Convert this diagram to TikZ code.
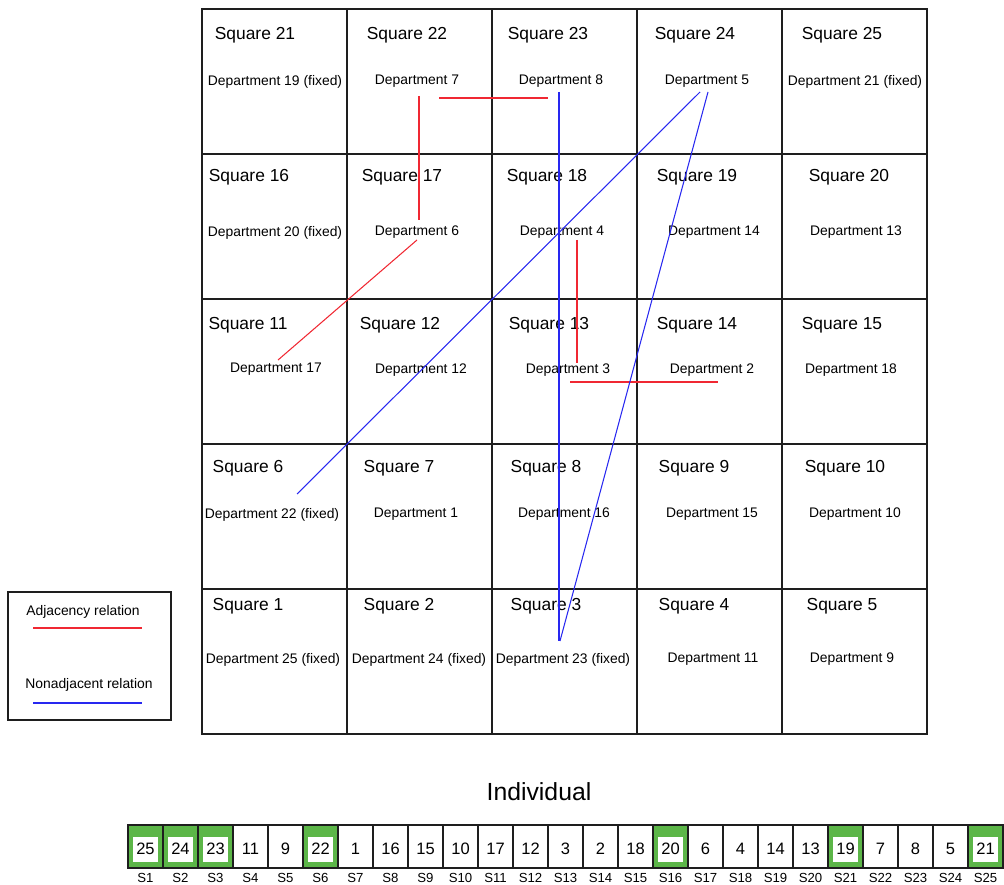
\documentclass[tikz,border=0pt]{standalone}
\usepackage{fontspec}
\setmainfont{Liberation Sans}
\usetikzlibrary{positioning}
\definecolor{AdjRed}{RGB}{240,40,50}
\definecolor{NonBlue}{RGB}{40,40,240}
\definecolor{FixGreen}{RGB}{92,182,72}
\definecolor{Frame}{RGB}{30,30,30}

\begin{document}
\begin{tikzpicture}[x=0.02cm,y=-0.02cm,
    cell/.style={draw=Frame,line width=0.8pt},
    sqlabel/.style={font=\fontsize{9.9}{12}\selectfont,inner sep=0pt,yshift=-0.03cm},
    dept/.style={font=\fontsize{7.9}{9.5}\selectfont,inner sep=0pt,yshift=-0.03cm},
    adj/.style={draw=AdjRed,line width=0.6pt},
    nonadj/.style={draw=NonBlue,line width=0.6pt},
    gene/.style={rectangle,draw=Frame,line width=0.8pt,minimum width=0.7cm,minimum height=0.86cm,inner sep=0pt},
    genenum/.style={rectangle,fill=white,minimum width=0.5cm,minimum height=0.5cm,inner sep=0pt,font=\fontsize{9.4}{11}\selectfont},
    slabel/.style={font=\fontsize{7.5}{9}\selectfont,inner sep=0pt}
]
\useasboundingbox (0,0) rectangle (1004,885);

% Layout grid
\foreach \r in {0,...,4}
  \foreach \c in {0,...,4}
    \draw[cell] ({202+145*\c},{9+145*\r}) rectangle ++(145,145);

% Top row (squares 21-25)
\node[sqlabel] (s21) at (255,34) {Square 21};
\node[sqlabel] (s22) at (407,34) {Square 22};
\node[sqlabel] (s23) at (548,34) {Square 23};
\node[sqlabel] (s24) at (695,34) {Square 24};
\node[sqlabel] (s25) at (842,34) {Square 25};
\node[dept] (d19) at (275,80) {Department 19 (fixed)};
\node[dept] (d7) at (417,80) {Department 7};
\node[dept] (d8) at (561,80) {Department 8};
\node[dept] (d5) at (707,80) {Department 5};
\node[dept] (d21) at (855,80) {Department 21 (fixed)};

% Squares 16-20
\node[sqlabel] (s16) at (249,176) {Square 16};
\node[sqlabel] (s17) at (402,176) {Square 17};
\node[sqlabel] (s18) at (547,176) {Square 18};
\node[sqlabel] (s19) at (697,176) {Square 19};
\node[sqlabel] (s20) at (849,176) {Square 20};
\node[dept] (d20) at (275,231) {Department 20 (fixed)};
\node[dept] (d6) at (417,231) {Department 6};
\node[dept] (d4) at (562,231) {Department 4};
\node[dept] (d14) at (714,231) {Department 14};
\node[dept] (d13) at (856,231) {Department 13};

% Squares 11-15
\node[sqlabel] (s11) at (248,324) {Square 11};
\node[sqlabel] (s12) at (400,324) {Square 12};
\node[sqlabel] (s13) at (549,324) {Square 13};
\node[sqlabel] (s14) at (697,324) {Square 14};
\node[sqlabel] (s15) at (842,324) {Square 15};
\node[dept] (d17) at (276,368) {Department 17};
\node[dept] (d12) at (421,369) {Department 12};
\node[dept] (d3) at (568,369) {Department 3};
\node[dept] (d2) at (712,369) {Department 2};
\node[dept] (d18) at (851,369) {Department 18};

% Squares 6-10
\node[sqlabel] (s6) at (248,467) {Square 6};
\node[sqlabel] (s7) at (399,467) {Square 7};
\node[sqlabel] (s8) at (546,467) {Square 8};
\node[sqlabel] (s9) at (694,467) {Square 9};
\node[sqlabel] (s10) at (845,467) {Square 10};
\node[dept] (d22) at (272,513) {Department 22 (fixed)};
\node[dept] (d1) at (416,513) {Department 1};
\node[dept] (d16) at (564,513) {Department 16};
\node[dept] (d15) at (712,513) {Department 15};
\node[dept] (d10) at (855,513) {Department 10};

% Squares 1-5
\node[sqlabel] (s1) at (248,605) {Square 1};
\node[sqlabel] (s2) at (399,605) {Square 2};
\node[sqlabel] (s3) at (546,605) {Square 3};
\node[sqlabel] (s4) at (694,605) {Square 4};
\node[sqlabel] (s5) at (842,605) {Square 5};
\node[dept] (d25) at (273,658) {Department 25 (fixed)};
\node[dept] (d24) at (419,658) {Department 24 (fixed)};
\node[dept] (d23) at (563,658) {Department 23 (fixed)};
\node[dept] (d11) at (713,658) {Department 11};
\node[dept] (d9) at (852,658) {Department 9};

% Adjacency relations
\draw[adj] ([shift={(22,16.5)}]d7.center) -- ([shift={(-13,16.5)}]d8.center);
\draw[adj] ([shift={(2,14.5)}]d7.center) -- ([shift={(2,-12.5)}]d6.center);
\draw[adj] ([shift={(0,7.5)}]d6.center) -- ([shift={(2,-9.5)}]d17.center);
\draw[adj] ([shift={(15,7.5)}]d4.center) -- ([shift={(9,-7.5)}]d3.center);
\draw[adj] ([shift={(2,11.5)}]d3.center) -- ([shift={(6,11.5)}]d2.center);

% Nonadjacent relations
\draw[nonadj] ([shift={(-2,10.5)}]d8.center) -- ([shift={(-4,-18.5)}]d23.center);
\draw[nonadj] ([shift={(-7,10.5)}]d5.center) -- ([shift={(25,-20.5)}]d22.center);
\draw[nonadj] ([shift={(1,10.5)}]d5.center) -- ([shift={(-3,-18.5)}]d23.center);

% Legend
\draw[cell] (8,592) rectangle (171,720);
\node[dept] (adjtxt) at (83,610) {Adjacency relation};
\coordinate (adjA) at (33,628);
\coordinate (adjB) at (142,628);
\draw[adj] (adjA) -- (adjB);
\node[dept] (nonadjtxt) at (89,683) {Nonadjacent relation};
\coordinate (nonA) at (33,703);
\coordinate (nonB) at (142,703);
\draw[nonadj] (nonA) -- (nonB);

% Individual (encoding)
\node[font=\fontsize{14.1}{17}\selectfont,inner sep=0pt] (title) at (539,792) {Individual};
\foreach \v [count=\i] in {25,24,23,11,9,22,1,16,15,10,17,12,3,2,18,20,6,4,14,13,19,7,8,5,21} {
  \ifnum\v>18\relax \def\gfill{FixGreen}\else \def\gfill{white}\fi
  \node[gene,fill=\gfill] (g\i) at ({110.5+35*\i},846.5) {};
  \node[genenum] (n\i) at ({110.5+35*\i},849) {\v};
  \node[slabel] (l\i) at ({110.5+35*\i},878) {S\i};
}

\end{tikzpicture}
\end{document}
